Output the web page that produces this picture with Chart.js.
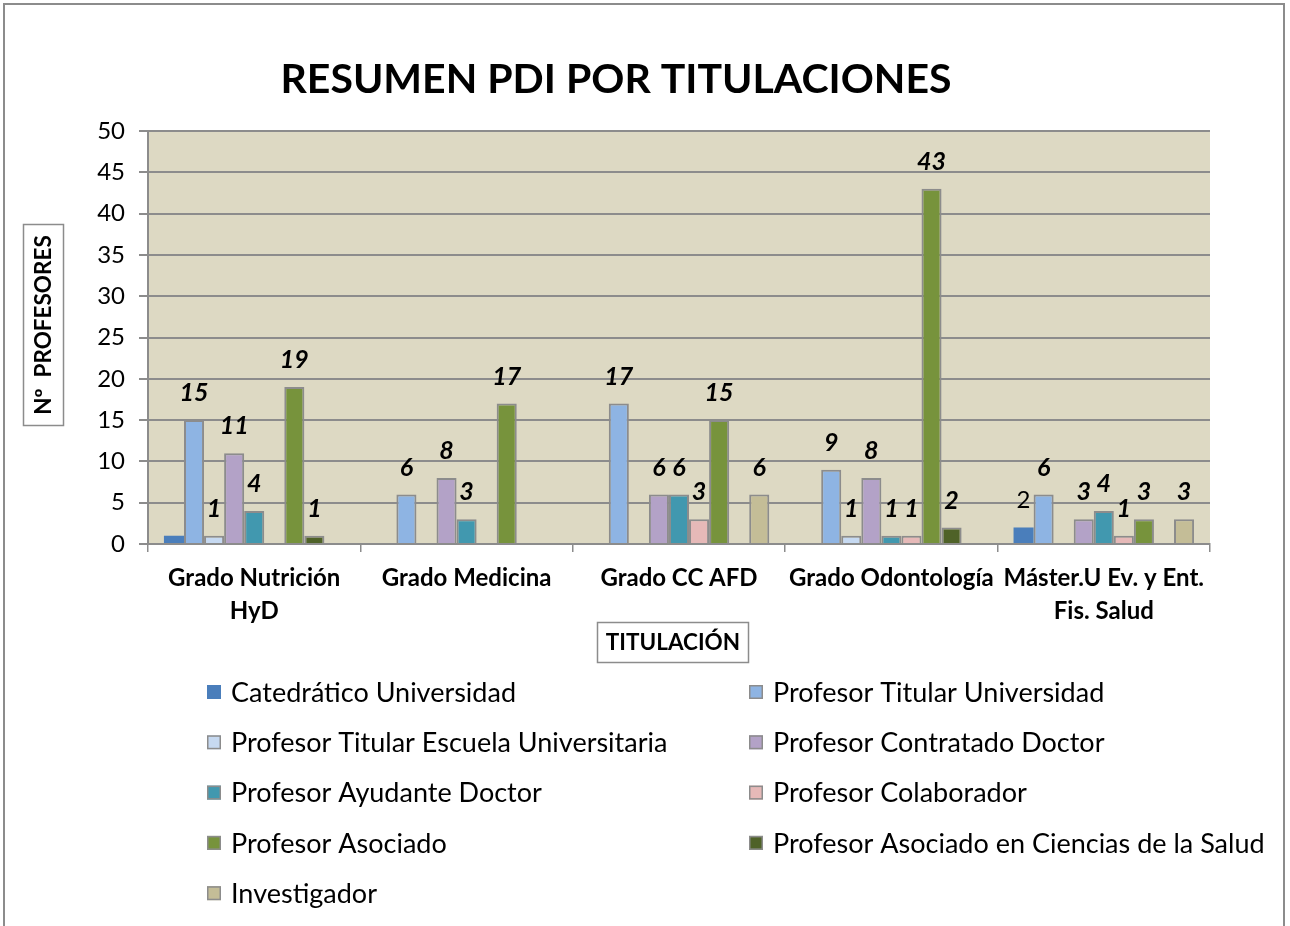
<!DOCTYPE html>
<html>
<head>
<meta charset="utf-8">
<script src="https://cdn.jsdelivr.net/npm/chart.js@4"></script>
<style>
  body { margin: 0; background: #fff; }
  canvas { display: block; }
</style>
</head>
<body>
<canvas id="myChart" width="1290" height="926"></canvas>
<script>
const FONT = 'Lato, "Open Sans", sans-serif';

const titulaciones = [
    ['Grado Nutrición', 'HyD'],
    'Grado Medicina',
    'Grado CC AFD',
    'Grado Odontología',
    ['Máster.U Ev. y Ent.', 'Fis. Salud']
];
const categorias = [
    'Catedrático Universidad',
    'Profesor Titular Universidad',
    'Profesor Titular Escuela Universitaria',
    'Profesor Contratado Doctor',
    'Profesor Ayudante Doctor',
    'Profesor Colaborador',
    'Profesor Asociado',
    'Profesor Asociado en Ciencias de la Salud',
    'Investigador'
];
const colores = ['#4A7EBB', '#8EB4E3', '#C6D9F1', '#B3A2C7', '#4198AF', '#E6B9B8', '#77933C', '#4F6228', '#C4BD97'];

const catedratico   = [1, null, null, null, 2];
const titularUniv   = [15, 6, 17, 9, 6];
const titularEscuela = [1, null, null, 1, null];
const contratadoDr  = [11, 8, 6, 8, 3];
const ayudanteDr    = [4, 3, 6, 1, 4];
const colaborador   = [null, null, 3, 1, 1];
const asociado      = [19, 17, 15, 43, 3];
const asociadoCS    = [1, null, null, 2, null];
const investigador  = [null, null, 6, null, 3];
const series = [catedratico, titularUniv, titularEscuela, contratadoDr, ayudanteDr, colaborador, asociado, asociadoCS, investigador];

// etiquetas que no salen / salen sin negrita
const hiddenLabels = ['0-0'];
const plainLabels = ['0-4'];

const ctx = document.getElementById('myChart').getContext('2d');

const data = {
    labels: titulaciones,
    datasets: categorias.map((name, i) => ({
        label: name,
        data: series[i],
        backgroundColor: colores[i],
        borderColor: '#8c8c8c',
        borderWidth: i === 0 ? 0 : 2,
        categoryPercentage: 0.85,
        barPercentage: 1
    }))
};

const fondo = {
    id: 'fondo',
    beforeDraw(chart) {
        const a = chart.chartArea;
        const c = chart.ctx;
        c.save();
        c.fillStyle = '#fff';
        c.fillRect(0, 0, chart.width, chart.height);
        c.fillStyle = '#DDD9C3';
        c.fillRect(a.left, a.top, a.right - a.left, a.bottom - a.top);
        c.restore();
    }
};

const etiquetas = {
    id: 'etiquetas',
    afterDatasetsDraw(chart) {
        const c = chart.ctx;
        c.save();
        c.fillStyle = '#000';
        c.textAlign = 'center';
        c.textBaseline = 'middle';
        chart.data.datasets.forEach((ds, d) => {
            const meta = chart.getDatasetMeta(d);
            meta.data.forEach((bar, i) => {
                const v = ds.data[i];
                if (v === null || hiddenLabels.includes(d + '-' + i)) return;
                c.font = plainLabels.includes(d + '-' + i) ? '24px ' + FONT : 'italic bold 25px ' + FONT;
                c.fillText(String(v), bar.x, bar.y - 27);
            });
        });
        c.restore();
    }
};

const adornos = {
    id: 'adornos',
    afterDraw(chart) {
        const c = chart.ctx;
        c.save();
        // titulo
        c.fillStyle = '#000';
        c.textAlign = 'center';
        c.textBaseline = 'middle';
        c.font = 'bold 41px ' + FONT;
        c.fillText('RESUMEN PDI POR TITULACIONES', 616, 80);

        // titulos de ejes
        c.strokeStyle = '#8c8c8c';
        c.lineWidth = 1.5;
        c.strokeRect(23.5, 224.5, 40, 201);
        c.strokeRect(597.5, 622.5, 151, 40);
        c.font = 'bold 22.5px ' + FONT;
        c.fillText('TITULACIÓN', 673, 643);
        c.save();
        c.translate(44, 325);
        c.rotate(-Math.PI / 2);
        c.fillText('Nº  PROFESORES', 0, 0);
        c.restore();

        // leyenda en dos columnas
        c.textAlign = 'left';
        c.font = '27px ' + FONT;
        chart.data.datasets.forEach((ds, i) => {
            const x = i % 2 === 0 ? 207 : 749;
            const y = 692 + Math.floor(i / 2) * 50.3;
            c.fillStyle = ds.backgroundColor;
            c.fillRect(x, y - 7, 14, 14);
            if (ds.borderWidth) {
                c.strokeStyle = '#8c8c8c';
                c.lineWidth = 1.5;
                c.strokeRect(x + 0.75, y - 6.25, 12.5, 12.5);
            }
            c.fillStyle = '#000';
            c.fillText(ds.label, x + 24, y + 1);
        });

        // marco exterior
        c.strokeStyle = '#8c8c8c';
        c.lineWidth = 2;
        c.strokeRect(4, 4, 1280, 940);
        c.restore();
    }
};

const config = {
    type: 'bar',
    data: data,
    options: {
        responsive: false,
        animation: false,
        layout: { padding: { top: 131, right: 80, left: 0, bottom: 0 } },
        scales: {
            x: {
                grid: { drawOnChartArea: false, color: '#8c8c8c', lineWidth: 1.5, tickLength: 8 },
                border: { color: '#8c8c8c', width: 2 },
                ticks: {
                    color: '#000',
                    font: { family: FONT, size: 24, weight: 'bold', lineHeight: 1.38 },
                    padding: 10,
                    maxRotation: 0,
                    autoSkip: false
                },
                afterFit: s => { s.height = 926 - 544; }
            },
            y: {
                min: 0,
                max: 50,
                grid: { color: '#8c8c8c', lineWidth: 2, tickLength: 9 },
                border: { color: '#8c8c8c', width: 2 },
                ticks: {
                    stepSize: 5,
                    color: '#000',
                    font: { family: FONT, size: 24 },
                    padding: 14
                },
                afterFit: s => { s.width = 148; }
            }
        },
        plugins: {
            legend: { display: false },
            tooltip: { enabled: false }
        }
    },
    plugins: [fondo, etiquetas, adornos]
};

Chart.defaults.color = '#000';
const pdiChart = new Chart(ctx, config);
</script>
</body>
</html>
